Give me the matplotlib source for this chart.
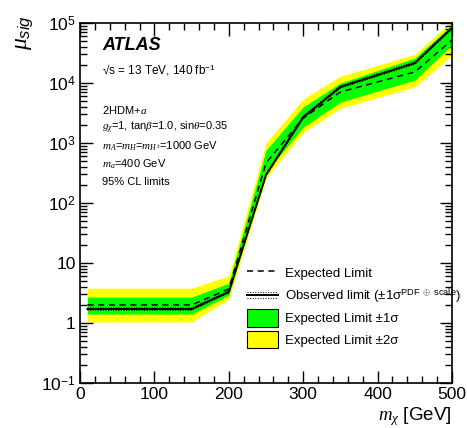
import matplotlib
matplotlib.use("Agg")
import matplotlib.pyplot as plt
from matplotlib.lines import Line2D
from matplotlib.patches import Patch
from matplotlib.legend_handler import HandlerBase
import numpy as np

plt.rcParams['font.family'] = ['Liberation Sans', 'DejaVu Sans']
plt.rcParams['mathtext.fontset'] = 'custom'
plt.rcParams['mathtext.rm'] = 'Liberation Sans'
plt.rcParams['mathtext.sf'] = 'Liberation Sans:italic'
plt.rcParams['mathtext.it'] = 'Liberation Serif:italic'
plt.rcParams['mathtext.bf'] = 'Liberation Sans:bold'

# Data
mchi = [10, 150, 200, 250, 300, 350, 450, 500]
expected = [2.0, 2.0, 3.7, 465, 2600, 7100, 15300, 52000]
observed = [1.71, 1.71, 3.3, 293, 2700, 8600, 21500, 83000]
theory_rel = [0.05, 0.05, 0.05, 0.05, 0.05, 0.05, 0.05, 0.05]
band1_up = [2.7, 2.7, 4.6, 760, 4000, 10000, 26000, 93000]
band1_dn = [1.41, 1.41, 2.9, 330, 1850, 4800, 11200, 43000]
band2_up = [3.8, 3.8, 6.1, 1000, 5400, 13000, 30000, 110000]
band2_dn = [1.04, 1.04, 2.5, 260, 1500, 3800, 8600, 29000]

x = np.array(mchi)
obs = np.array(observed)
rel = np.array(theory_rel)

fig = plt.figure(figsize=(4.67, 4.28), dpi=100)
ax = fig.add_axes([80/467, 1-383/428, 372/467, 360/428])

ax.fill_between(x, band2_dn, band2_up, color='#ffff00', lw=0, zorder=1)
ax.fill_between(x, band1_dn, band1_up, color='#00ff00', lw=0, zorder=2)
ax.plot(x, expected, color='black', ls=(0, (4, 3)), lw=1.1, zorder=3)
ax.plot(x, obs, color='black', lw=1.4, zorder=4)
ax.plot(x, obs*(1+rel), color='black', ls=':', lw=0.7, zorder=4)
ax.plot(x, obs*(1-rel), color='black', ls=':', lw=0.7, zorder=4)

ax.set_yscale('log')
ax.set_xlim(0, 500)
ax.set_ylim(0.1, 1e5)
ax.set_xticks([0, 100, 200, 300, 400, 500])
ax.set_xticks(np.arange(0, 501, 20), minor=True)
ax.set_yticks([0.1, 1, 10, 100, 1e3, 1e4, 1e5])
ax.set_yticklabels([r'$10^{-1}$', '1', '10', r'$10^{2}$', r'$10^{3}$', r'$10^{4}$', r'$10^{5}$'])
ax.yaxis.set_minor_locator(matplotlib.ticker.LogLocator(base=10, subs=np.arange(2, 10), numticks=20))
ax.yaxis.set_minor_formatter(matplotlib.ticker.NullFormatter())
ax.tick_params(which='both', direction='in', top=True, right=True, width=1.0)
ax.tick_params(which='major', length=9, labelsize=12.5, pad=3)
ax.tick_params(which='minor', length=5)
for sp in ax.spines.values():
    sp.set_linewidth(1.2)

fig.text(452/467, 1-417/428, r'$m_{\chi}$ [GeV]', ha='right', va='center', fontsize=13.5)
fig.text(24/467, 1-33/428, r'$\mu_{\mathsf{sig}}$', ha='center', va='center', fontsize=17, rotation=90)

tx = 102/467
fig.text(tx, 1-45/428, 'ATLAS', fontsize=13, fontweight='bold', fontstyle='italic', va='center')
fig.text(tx, 1-70/428, '\u221As = 13 TeV, 140 fb$^{-1}$', fontsize=8.5, va='center')
fig.text(tx, 1-110/428, r'2HDM+$a$', fontsize=8, va='center')
fig.text(tx, 1-128/428, r'$g_{\chi}$=1, tan$\beta$=1.0, sin$\theta$=0.35', fontsize=8, va='center')
fig.text(tx, 1-146/428, r'$m_{A}$=$m_{H}$=$m_{H^{\pm}}$=1000 GeV', fontsize=8, va='center')
fig.text(tx, 1-164/428, r'$m_{a}$=400 GeV', fontsize=8, va='center')
fig.text(tx, 1-182/428, '95% CL limits', fontsize=8, va='center')


class ObsHandler(HandlerBase):
    def create_artists(self, legend, orig_handle, xdescent, ydescent, width, height, fontsize, trans):
        y = height/2 - ydescent
        arts = []
        for dy, ls, lw in [(0, '-', 1.4), (2.2, ':', 0.7), (-2.2, ':', 0.7)]:
            l = Line2D([-xdescent, width-xdescent], [y+dy, y+dy], color='black', ls=ls, lw=lw, transform=trans)
            arts.append(l)
        return arts


h_exp = Line2D([], [], color='black', ls=(0, (4, 3)), lw=1.1)
h_obs = object()
h_g = Patch(facecolor='#00ff00', edgecolor='black', lw=0.8)
h_y = Patch(facecolor='#ffff00', edgecolor='black', lw=0.8)
leg = ax.legend([h_exp, h_obs, h_g, h_y],
                ['Expected Limit',
                 'Observed limit (\u00b11\u03c3$^{\mathrm{PDF}\ \oplus\ \mathrm{scale}}$)',
                 'Expected Limit \u00b11\u03c3', 'Expected Limit \u00b12\u03c3'],
                handler_map={h_obs: ObsHandler()},
                loc='upper left', bbox_to_anchor=((242-80)/372, (383-259)/360),
                frameon=False, fontsize=9.5, handlelength=2.3, handleheight=1.7,
                labelspacing=0.3, handletextpad=0.55, borderaxespad=0)

fig.savefig('out.png', dpi=100)
